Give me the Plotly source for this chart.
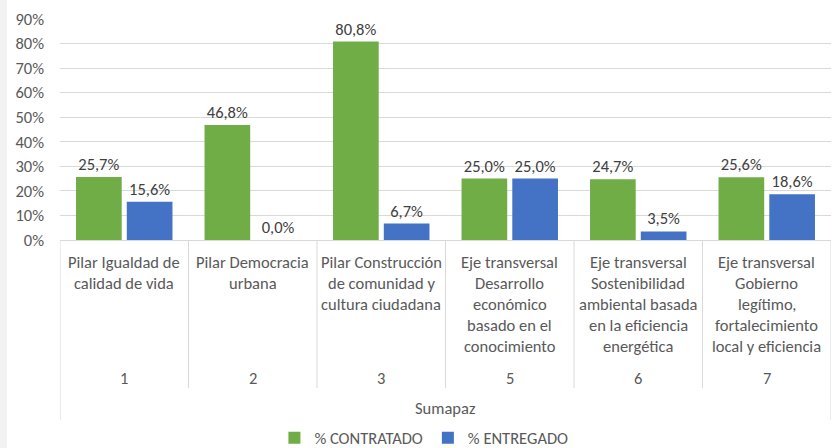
import plotly.graph_objects as go

categories = [
    "Pilar Igualdad de<br>calidad de vida",
    "Pilar Democracia<br>urbana",
    "Pilar Construcción<br>de comunidad y<br>cultura ciudadana",
    "Eje transversal<br>Desarrollo<br>económico<br>basado en el<br>conocimiento",
    "Eje transversal<br>Sostenibilidad<br>ambiental basada<br>en la eficiencia<br>energética",
    "Eje transversal<br>Gobierno<br>legítimo,<br>fortalecimiento<br>local y eficiencia",
]
codes = ["1", "2", "3", "5", "6", "7"]
group_label = "Sumapaz"
contratado = [0.257, 0.468, 0.808, 0.250, 0.247, 0.256]
entregado = [0.156, 0.000, 0.067, 0.250, 0.035, 0.186]
series_names = ["% CONTRATADO", "% ENTREGADO"]
y_ticks = [0, 0.1, 0.2, 0.3, 0.4, 0.5, 0.6, 0.7, 0.8, 0.9]

FONT = "Carlito, Calibri, Lato, sans-serif"
FS = 16.5
GREEN = "#70AD47"
BLUE = "#4472C4"
TXT = "#595959"
GRID = "#D9D9D9"

W, H = 838, 448
ML, MR, MT, MB = 60, 7, 19, 208
PH = H - MT - MB
PW = W - ML - MR

def py(pix):
    # pixel row -> paper y
    return (H - MB - pix) / PH

fig = go.Figure()
for name, vals, col in [(series_names[0], contratado, GREEN), (series_names[1], entregado, BLUE)]:
    fig.add_trace(go.Bar(
        x=categories, y=vals, name=name, marker=dict(color=col, line=dict(width=0)),
        texttemplate="%{y:.1%}", textposition="outside", cliponaxis=False,
        constraintext="none",
        textfont=dict(family=FONT, size=FS, color="#404040"),
    ))

annotations = []
for i, lab in enumerate(categories):
    for k, line in enumerate(lab.split("<br>")):
        annotations.append(dict(
            x=i, y=py(262 + 21 * k), xref="x", yref="paper", text=line,
            showarrow=False, xanchor="center", yanchor="middle",
            font=dict(family=FONT, size=FS, color=TXT)))
    annotations.append(dict(
        x=i, y=py(378), xref="x", yref="paper", text=codes[i],
        showarrow=False, xanchor="center", yanchor="middle",
        font=dict(family=FONT, size=FS, color=TXT)))
annotations.append(dict(
    x=0.5, y=py(408), xref="paper", yref="paper", text=group_label,
    showarrow=False, xanchor="center", yanchor="middle",
    font=dict(family=FONT, size=FS, color=TXT)))

shapes = []
n = len(categories)
for i in range(n + 1):
    bottom = 420 if i in (0, n) else 388
    shapes.append(dict(type="line", xref="x", yref="paper", x0=i - 0.5, x1=i - 0.5,
                       y0=0, y1=py(bottom), line=dict(color=GRID, width=1)))
# left grey strip
shapes.append(dict(type="rect", xref="paper", yref="paper",
                   x0=(0 - ML) / PW, x1=(7 - ML) / PW, y0=py(H), y1=py(0),
                   fillcolor="#F2F2F2", line=dict(width=0), layer="below"))

fig.update_layout(
    width=W, height=H,
    margin=dict(l=ML, r=MR, t=MT, b=MB, autoexpand=False),
    paper_bgcolor="white", plot_bgcolor="white",
    separators=",.",
    barmode="group", bargap=0.21, bargroupgap=0.1,
    font=dict(family=FONT, size=FS, color=TXT),
    xaxis=dict(type="category", showticklabels=False, showgrid=False, zeroline=False,
               showline=False, range=[-0.5, n - 0.5], ticks="", automargin=False),
    yaxis=dict(range=[0, 0.9], tickvals=y_ticks, tickformat=".0%", showgrid=True,
               gridcolor=GRID, gridwidth=1, zeroline=True, zerolinecolor=GRID,
               zerolinewidth=1, showline=False, ticks="", ticklabelstandoff=15,
               automargin=False,
               tickfont=dict(family=FONT, size=FS, color=TXT)),
    legend=dict(orientation="h", x=0.472, xanchor="center", y=py(438), yanchor="middle",
                font=dict(family=FONT, size=FS, color=TXT), itemwidth=30,
                traceorder="normal", bgcolor="rgba(0,0,0,0)"),
    annotations=annotations, shapes=shapes,
)

fig.write_html("out.html", config={"displayModeBar": False},
               post_script="document.body.style.margin='0px';document.body.style.overflow='hidden';")
